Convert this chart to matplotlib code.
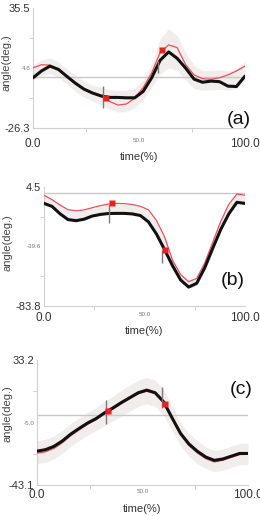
import matplotlib.pyplot as plt

plt.rcParams["font.family"] = ["Liberation Sans", "DejaVu Sans"]

# time grid (%) shared by all three panels
t = [0, 4, 8, 12, 16, 20, 24, 28, 32, 36, 40, 44, 48, 52, 56, 60, 64, 68, 72, 76, 80, 84, 88, 92, 96, 100]

# panel (a)
black_a = [-0.5, 3.0, 5.5, 3.8, 0.2, -3.3, -6.3, -8.3, -9.8, -10.6, -10.6, -10.8, -10.8,
           -7.5, -0.5, 8.5, 12.8, 9.5, 4.5, -1.2, -2.8, -2.2, -2.5, -4.8, -5.0, 0.3]
red_a = [4.6, 6.2, 6.0, 3.5, 0.0, -3.5, -6.5, -8.5, -10.0, -12.6, -14.5, -14.0, -11.0,
         -5.5, 2.0, 12.5, 16.4, 15.0, 6.3, 1.0, -1.0, -1.2, -0.5, 1.0, 3.0, 5.5]
sd_a = [4, 4, 4, 4, 4, 4, 4, 4, 4.5, 5, 5.5, 5.5, 5, 5, 6, 9, 10, 9, 7, 6, 5, 5, 5, 5, 5, 5]
mark_t_a = [34.3, 61.0]
mark_v_a = [-10.9, 14.0]
bar_t_a = [32.8, 59.0]
bar_lo_a = [-16.0, 2.0]
bar_hi_a = [-4.5, 8.0]

# panel (b)
black_b = [-7.8, -10.0, -15.5, -19.8, -20.6, -19.5, -17.2, -16.0, -15.3, -15.2, -15.2, -15.6, -16.8,
           -21.5, -30.5, -42.0, -54.0, -64.5, -69.8, -67.0, -55.5, -41.0, -27.0, -15.5, -7.0, -7.8]
red_b = [-1.7, -5.0, -9.0, -12.5, -13.3, -12.6, -11.0, -9.5, -8.3, -7.8, -8.0, -8.6, -10.0,
         -12.5, -20.5, -32.5, -50.0, -60.5, -65.8, -63.4, -52.0, -36.5, -21.0, -8.5, -0.8, -1.7]
sd_b = [3] * 26
mark_t_b = [34.0, 60.1]
mark_v_b = [-7.8, -42.4]
bar_t_b = [32.4, 58.8]
bar_lo_b = [-22.6, -52.0]
bar_hi_b = [-9.0, -42.0]

# panel (c)
black_c = [-22.4, -21.5, -19.5, -16.2, -12.0, -8.5, -5.2, -2.5, 1.0, 4.0, 7.3, 10.3, 13.3,
           14.9, 13.3, 7.8, -2.0, -11.5, -18.0, -22.5, -26.0, -28.0, -27.2, -25.5, -23.8, -23.8]
red_c = [-23.6, -22.8, -20.8, -17.3, -13.0, -9.4, -6.0, -3.2, 0.3, 3.3, 6.6, 9.6, 12.6,
         14.2, 12.8, 7.2, -2.6, -12.3, -19.0, -23.5, -27.0, -29.0, -28.0, -26.2, -24.5, -24.3]
sd_c = [7, 7, 7, 7, 7, 7, 7, 7, 7.5, 7.5, 8, 8, 8, 8, 8, 8, 7.5, 7, 7, 7, 6.5, 6.5, 6.5, 6.5, 6.5, 6.5]
mark_t_c = [33.5, 60.6]
mark_v_c = [2.3, 6.7]
bar_t_c = [32.8, 59.4]
bar_lo_c = [-5.5, 3.7]
bar_hi_c = [8.8, 16.9]

panels = [
    dict(rect=[0.127, 0.752, 0.815, 0.233], ylim=(-26.3, 35.5), ylabels=("-26.3", "4.6", "35.5"),
         black=black_a, red=red_a, sd=sd_a, mt=mark_t_a, mv=mark_v_a,
         bt=bar_t_a, blo=bar_lo_a, bhi=bar_hi_a, tag="(a)", tagpos=(1.03, 0.0),
         ylab_xy=(-0.10, 0.54), xpad=7),
    dict(rect=[0.169, 0.407, 0.773, 0.231], ylim=(-83.8, 4.5), ylabels=("-83.8", "-39.6", "4.5"),
         black=black_b, red=red_b, sd=sd_b, mt=mark_t_b, mv=mark_v_b,
         bt=bar_t_b, blo=bar_lo_b, bhi=bar_hi_b, tag="(b)", tagpos=(1.0, 0.14),
         ylab_xy=(-0.155, 0.53), xpad=4),
    dict(rect=[0.142, 0.060, 0.812, 0.242], ylim=(-43.1, 33.2), ylabels=("-43.1", "-5.0", "33.2"),
         black=black_c, red=red_c, sd=sd_c, mt=mark_t_c, mv=mark_v_c,
         bt=bar_t_c, blo=bar_lo_c, bhi=bar_hi_c, tag="(c)", tagpos=(1.02, 0.70),
         ylab_xy=(-0.118, 0.57), xpad=3),
]

fig = plt.figure(figsize=(2.6, 5.16), dpi=100)
txt = "#333333"

for p in panels:
    ax = fig.add_axes(p["rect"])
    lo, hi = p["ylim"]
    ax.set_xlim(0, 100)
    ax.set_ylim(lo, hi)

    mid = [(b + r) / 2 for b, r in zip(p["black"], p["red"])]
    ax.fill_between(t, [m - s for m, s in zip(mid, p["sd"])], [m + s for m, s in zip(mid, p["sd"])],
                    color="#f1eded", lw=0, zorder=1)
    ax.axhline(0, color="#c8c8c8", lw=1.0, zorder=2)
    ax.plot(t, p["red"], color="#e8505a", lw=0.9, zorder=3)
    ax.plot(t, p["black"], color="#111111", lw=2.2, solid_capstyle="round",
            solid_joinstyle="round", zorder=4)
    ax.vlines(p["bt"], p["blo"], p["bhi"], color="#7a7a7a", lw=1.0, zorder=5)
    ax.plot(p["mt"], p["mv"], "s", color="#e82020", ms=4, mec="none", zorder=6)

    for s in ("top", "right"):
        ax.spines[s].set_visible(False)
    for s in ("left", "bottom"):
        ax.spines[s].set_color("#d0d0d0")
        ax.spines[s].set_linewidth(0.8)

    ymid = (lo + hi) / 2
    ax.set_yticks([lo, ymid, hi])
    ax.set_yticklabels(p["ylabels"])
    ax.set_yticks([(lo + ymid) / 2, (ymid + hi) / 2], minor=True)
    for i, lab in enumerate(ax.get_yticklabels()):
        lab.set_fontsize(4.5 if i == 1 else 8)
        lab.set_color("#777777" if i == 1 else txt)
    ax.set_xticks([0, 50, 100])
    ax.set_xticklabels(["0.0", "50.0", "100.0"])
    for i, lab in enumerate(ax.get_xticklabels()):
        lab.set_fontsize(4.5 if i == 1 else 8.5)
        lab.set_color("#777777" if i == 1 else txt)
    ax.set_xticks([25, 75], minor=True)
    ax.tick_params(axis="y", which="major", length=0, pad=2)
    ax.tick_params(axis="x", which="major", length=0, pad=p["xpad"])
    ax.tick_params(which="minor", length=3, color="#c8c8c8", direction="out")

    ax.set_xlabel("time(%)", fontsize=8, color=txt, labelpad=2)
    ax.set_ylabel("angle(deg.)", fontsize=8, color="#444444")
    ax.yaxis.set_label_coords(*p["ylab_xy"])
    ax.text(p["tagpos"][0], p["tagpos"][1], p["tag"], transform=ax.transAxes,
            ha="right", va="bottom", fontsize=14, color="#111111")

fig.savefig("out.png", dpi=100)
